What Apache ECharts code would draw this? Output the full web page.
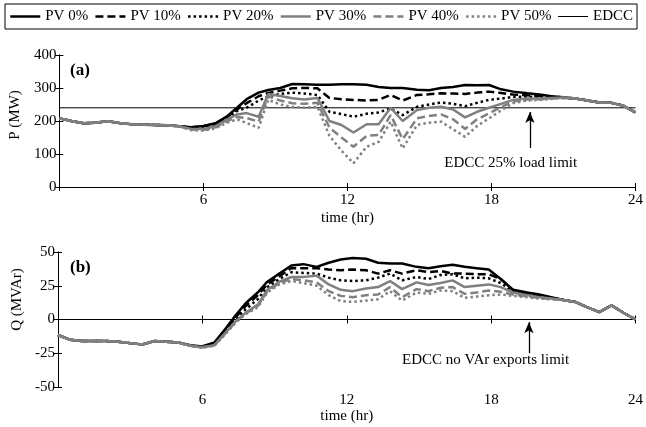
<!DOCTYPE html>
<html><head><meta charset="utf-8">
<script src="https://cdn.jsdelivr.net/npm/echarts@6/dist/echarts.min.js"></script>
<style>html,body{margin:0;padding:0;background:#fff}#c{width:646px;height:427px}</style>
</head><body><div id="c"></div>
<script>
// ---- time stamps (hours) ----
const nightT = [0,0.5,1,1.5,2,2.5,3,3.5,4,4.5,5];
const dayT = [5.5,6,6.5,7,7.4,7.8,8.3,8.7,9.2,9.7,10.2,10.75,11.25,11.75,12.25,12.8,13.3,13.8,14.3,14.9,15.4,15.9,16.4,16.9,17.4,17.9,18.4,18.9,19.5,20,20.5,21];
const eveT = [21.5,22,22.5,23,23.5,24];

// ---- panel (a): P (MW) ----
const nightP = [208,200,193,195,199,194,190,189,188,187,184];
const eveP = [268,262,256,255,246,226];
const p0Day  = [181,185,193,215,240,266,286,294,300,312,311,310,310,311,311,310,303,300,300,295,293,300,303,309,308,309,296,289,284,280,275,272];
const p10Day = [181,184,192,213,235,254,275,285,292,299,300,299,270,266,264,262,264,279,262,279,281,284,283,282,286,289,285,280,278,276,274,271];
const p20Day = [179,182,190,210,230,240,262,275,282,286,283,279,228,221,213,222,226,238,218,243,250,256,252,245,255,264,268,273,274,273,272,270];
const p30Day = [176,176,184,205,220,224,213,282,276,269,265,270,200,188,165,190,190,240,200,233,240,243,235,211,228,240,252,264,268,268,270,271];
const p40Day = [174,173,181,200,212,209,198,275,262,254,252,255,180,150,122,155,158,218,145,208,215,220,205,176,205,223,242,259,265,266,268,270];
const p50Day = [172,171,178,195,205,194,179,264,250,243,240,243,155,110,72,122,137,198,117,188,195,198,175,152,185,208,232,254,262,264,267,270];
const edccP = 240;

// ---- panel (b): Q (MVAr) ----
const nightQ = [-11.5,-15,-16,-16,-16,-16.5,-17.5,-18.5,-16,-16.5,-17];
const eveQ = [13,9,5.5,10.5,5,0];
const q0Day  = [-19,-20,-17,-6,3.5,12,20,28,34,40,41,39,42,44.5,45.5,45,42,41.5,41.5,39,38,39.5,40.5,39,38,37,30,22,20,18.5,16.5,14.5];
const q10Day = [-19.5,-20,-17.5,-7,2,10,18,26,32,38,38,38,37,36.5,37,36.5,34,36.5,34,36.5,35,36,34,34,33.5,33.5,30,22,19.5,18,16,14.5];
const q20Day = [-19.5,-20.5,-18,-8,0.5,7.5,15,24,30,35,34.5,34,31,29,28.5,29,31,34,29,31.5,30,33,33.5,30.5,31,30.5,27,21,19,17.5,16,14.5];
const q30Day = [-19.5,-20.5,-19,-9,-1,5,11,22,28,31.5,31.5,32.5,26,22,21,23,24,28.5,22.5,27.5,25.5,27,29,24,25,26,24,20,18,16.5,15.5,14.5];
const q40Day = [-19.5,-20.5,-19,-9.5,-1.5,4.5,10,21,27,30,29,27.5,21,17.5,16.5,18,18.5,24,16.5,22.5,21,23.5,24,19,20,21.5,20.5,18.5,17,16,15,14.5];
const q50Day = [-19.5,-21,-19.5,-10,-2,4,9,20,26,28.5,27,25,18,13.6,13,14,15,21,14,20,19,21.5,21,16,17,18,18.5,17.5,16.5,15.5,15,14.5];
const edccQ = 0;

const seriesNames = ['PV 0%','PV 10%','PV 20%','PV 30%','PV 40%','PV 50%'];
const xTicks = [6,12,18,24];

// ---- styles ----
const FONT = '"Liberation Serif","Times New Roman",serif';
const GRAY = '#808080';
const lineStyles = [
  {color:'#000', type:'solid'},
  {color:'#000', type:[8,4]},
  {color:'#000', type:[2.5,3]},
  {color:GRAY, type:'solid'},
  {color:GRAY, type:[8,4]},
  {color:GRAY, type:[2.5,3]}
];

function pts(times, vals){ return times.map((t,i)=>[t, vals[i]]); }
function full(night, day, eve){ return pts(nightT, night).concat(pts(dayT, day), pts(eveT, eve)); }

const pDays = [p0Day,p10Day,p20Day,p30Day,p40Day,p50Day];
const qDays = [q0Day,q10Day,q20Day,q30Day,q40Day,q50Day];

const series = [];
function addEdcc(gi, val, arrow, text){
  series.push({
    name:'EDCC', type:'line', xAxisIndex:gi*2, yAxisIndex:gi*2,
    data:[[0,val],[24,val]], symbol:'none', silent:true,
    lineStyle:{color:'#000', width:1}, itemStyle:{color:'#000'}, z:1,
    markLine:{silent:true, symbol:['none','arrow'], symbolSize:[7,11], animation:false,
      lineStyle:{color:'#000', width:1.3, type:'solid'}, label:{show:false},
      data:[[{coord:arrow[0]},{coord:arrow[1]}]]},
    markPoint:{silent:true, symbol:'rect', symbolSize:1, itemStyle:{color:'rgba(0,0,0,0)'}, animation:false,
      label:{show:true, position:'inside', formatter:text.label, color:'#000', fontFamily:FONT, fontSize:15},
      data:[{coord:text.at}]}
  });
}
addEdcc(0, edccP, [[19.6,118],[19.6,227]], {label:'EDCC 25% load limit', at:[18.8,72]});
addEdcc(1, edccQ, [[19.57,-25],[19.57,-2]], {label:'EDCC no VAr exports limit', at:[17.77,-30]});
seriesNames.forEach((n,i)=>{
  series.push({name:n, type:'line', xAxisIndex:0, yAxisIndex:0, symbol:'none', showSymbol:false,
    data:full(nightP,pDays[i],eveP), lineStyle:{width:2.5, color:lineStyles[i].color, type:lineStyles[i].type},
    itemStyle:{color:lineStyles[i].color}, z:2+i});
  series.push({name:n, type:'line', xAxisIndex:2, yAxisIndex:2, symbol:'none', showSymbol:false,
    data:full(nightQ,qDays[i],eveQ), lineStyle:{width:2.5, color:lineStyles[i].color, type:lineStyles[i].type},
    itemStyle:{color:lineStyles[i].color}, z:2+i});
});

const axLine = {show:true, lineStyle:{color:'#000', width:1}};
const tick = {show:true, inside:true, length:4, lineStyle:{color:'#000', width:1}};
function xAxes(gi, gap){
  return [
    {gridIndex:gi, type:'value', min:0, max:24, interval:6, position:'bottom',
     axisLine:axLine, axisTick:tick, splitLine:{show:false},
     axisLabel:{color:'#000', fontFamily:FONT, fontSize:15, margin:6, formatter:v=>xTicks.includes(v)?String(v):''},
     name:'time (hr)', nameLocation:'middle', nameGap:gap, nameTextStyle:{color:'#000', fontFamily:FONT, fontSize:15}},
    {gridIndex:gi, type:'value', min:0, max:24, interval:6, position:'top',
     axisLine:axLine, axisTick:tick, splitLine:{show:false}, axisLabel:{show:false}}
  ];
}
function yAxes(gi, min, max, interval, name, pad){
  return [
    {gridIndex:gi, type:'value', min:min, max:max, interval:interval, position:'left',
     axisLine:axLine, axisTick:tick, splitLine:{show:false},
     axisLabel:{color:'#000', fontFamily:FONT, fontSize:15, margin:3},
     name:name, nameLocation:'middle', nameGap:33,
     nameTextStyle:{color:'#000', fontFamily:FONT, fontSize:15, padding:[0,0,0,pad]}},
    {gridIndex:gi, type:'value', min:min, max:max, interval:interval, position:'right',
     axisLine:axLine, axisTick:tick, splitLine:{show:false}, axisLabel:{show:false}}
  ];
}

const legendData = seriesNames.map(n=>({name:n, lineStyle:{width:2.5}}))
  .concat([{name:'EDCC', lineStyle:{width:1}}]);

const option = {
  animation:false,
  backgroundColor:'#fff',
  textStyle:{fontFamily:FONT},
  title:[
    {text:'(a)', left:70, top:62, padding:0, textStyle:{fontFamily:FONT, fontSize:17, fontWeight:'bold', color:'#000'}},
    {text:'(b)', left:70, top:259, padding:0, textStyle:{fontFamily:FONT, fontSize:17, fontWeight:'bold', color:'#000'}}
  ],
  legend:{left:5, top:4, itemWidth:30, itemHeight:14, itemGap:6, padding:[5,4],
    borderColor:'#000', borderWidth:1, selectedMode:false,
    itemStyle:{opacity:0, borderWidth:0},
    textStyle:{fontFamily:FONT, fontSize:15, color:'#000'},
    data:legendData},
  grid:[
    {left:58, right:8, top:55, height:132},
    {left:58, right:8, top:252, height:135}
  ],
  xAxis: xAxes(0, 24).concat(xAxes(1, 22)),
  yAxis: yAxes(0, 0, 400, 100, 'P (MW)', 12).concat(yAxes(1, -50, 50, 25, 'Q (MVAr)', 40)),
  series: series
};
const chart = echarts.init(document.getElementById('c'), null, {renderer:'canvas'});
chart.setOption(option);
</script>
</body></html>
